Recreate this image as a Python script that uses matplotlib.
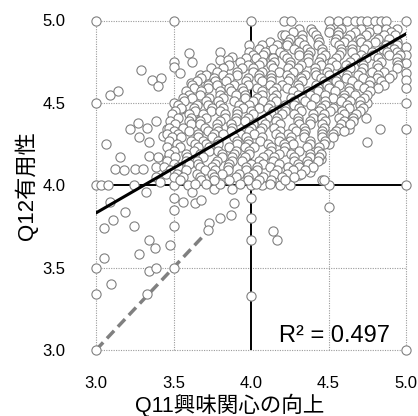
import matplotlib
matplotlib.use("Agg")
import matplotlib.pyplot as plt
import numpy as np

plt.rcParams['font.family'] = ['Liberation Sans', 'Noto Sans CJK JP', 'DejaVu Sans']

# ---- data ----
x_label = "Q11興味関心の向上"
y_label = "Q12有用性"
ticks = [3.0, 3.5, 4.0, 4.5, 5.0]
tick_labels = ["3.0", "3.5", "4.0", "4.5", "5.0"]
r2_text = "R² = 0.497"
fit_slope = 0.5435
fit_intercept = 2.2015
diag_end = 3.72

edge_points = [
    (3.0, 5.0), (3.5, 5.0), (4.0, 5.0),
    (4.21, 5.0), (4.26, 5.0), (4.50, 5.0), (4.56, 5.0), (4.62, 5.0), (4.67, 5.0),
    (4.71, 5.0), (4.75, 5.0), (4.80, 5.0), (4.84, 5.0), (4.87, 5.0), (5.0, 5.0),
    (5.0, 4.84), (5.0, 4.79), (5.0, 4.74), (5.0, 4.68), (5.0, 4.64), (5.0, 4.59),
    (5.0, 4.50), (5.0, 4.34), (5.0, 4.0), (5.0, 3.0),
    (4.75, 4.50), (4.83, 4.34), (4.75, 4.26), (4.5, 4.0), (4.5, 3.87), (4.46, 4.03),
    (4.0, 3.92), (4.0, 3.80), (4.0, 3.67), (4.0, 3.33), (4.14, 3.72), (4.17, 3.67),
    (4.07, 4.0), (4.19, 4.0), (4.25, 4.0), (4.0, 4.0),
    (3.0, 4.0), (3.03, 4.0), (3.08, 4.0), (3.245, 4.0), (3.32, 3.96),
    (3.5, 4.0), (3.595, 4.0),
    (3.09, 3.90), (3.19, 3.84), (3.11, 3.79), (3.05, 3.74), (3.245, 3.75),
    (3.34, 3.67), (3.38, 3.62), (3.28, 3.58), (3.48, 3.64), (3.5, 3.75),
    (3.5, 3.85), (3.5, 3.92), (3.5, 3.5), (3.34, 3.48), (3.39, 3.50),
    (3.05, 3.56), (3.0, 3.5), (3.095, 3.40), (3.0, 3.34), (3.33, 3.34), (3.0, 3.0),
    (3.73, 3.77), (3.725, 3.73), (3.80, 3.80), (3.87, 3.82), (3.89, 3.89),
    (3.56, 3.90), (3.64, 3.89), (3.68, 3.91), (3.62, 3.96), (3.76, 3.98),
    (3.80, 4.01), (3.875, 3.98),
    (3.0, 4.5), (3.5, 4.5), (3.09, 4.55), (3.14, 4.57), (3.29, 4.70),
    (3.36, 4.64), (3.42, 4.65), (3.40, 4.60), (3.5, 4.75), (3.5, 4.72),
    (3.54, 4.68), (3.60, 4.80), (3.62, 4.75), (3.065, 4.25), (3.155, 4.17),
    (3.12, 4.10), (3.18, 4.09), (3.25, 4.10), (3.30, 4.10), (3.22, 4.34),
    (3.27, 4.38), (3.33, 4.35), (3.39, 4.39), (3.28, 4.29), (3.34, 4.26),
    (3.43, 4.30), (3.46, 4.34), (3.34, 4.18), (3.40, 4.17), (3.46, 4.16),
    (3.39, 4.11), (3.39, 4.05), (3.41, 4.02),
    (3.67, 4.67), (3.80, 4.81), (3.80, 4.76), (3.875, 4.78), (3.85, 4.76),
    (3.99, 4.85), (3.99, 4.81), (4.0, 4.76), (4.20, 4.91), (4.23, 4.87),
    (4.18, 4.84), (4.06, 4.82), (4.07, 4.76), (4.14, 4.78), (4.12, 4.84),
    (3.61, 4.62), (3.65, 4.60), (3.55, 4.46), (3.63, 4.44),
    (4.74, 4.41), (4.66, 4.41), (4.63, 4.34), (4.55, 4.33), (4.50, 4.25),
    (4.45, 4.16), (4.38, 4.08), (4.31, 4.06), (4.24, 4.06), (4.19, 4.09),
    (4.47, 4.03),
]

core_rows = [
    (4.95, [4.31, 4.39, 4.51, 4.58, 4.71, 4.81, 4.87, 4.94]),
    (4.93, [4.27, 4.40, 4.50, 4.56, 4.67, 4.76, 4.90]),
    (4.91, [4.22, 4.33, 4.42, 4.56, 4.64, 4.74, 4.86, 4.93]),
    (4.89, [4.25, 4.33, 4.43, 4.55, 4.62, 4.70, 4.82, 4.89]),
    (4.87, [4.12, 4.24, 4.31, 4.44, 4.54, 4.60, 4.71, 4.80, 4.94]),
    (4.85, [4.07, 4.17, 4.23, 4.34, 4.43, 4.57, 4.65, 4.75, 4.87, 4.94]),
    (4.83, [4.05, 4.14, 4.28, 4.36, 4.46, 4.58, 4.65, 4.73, 4.85, 4.92]),
    (4.81, [4.09, 4.19, 4.31, 4.38, 4.46, 4.58, 4.65, 4.78, 4.88, 4.94]),
    (4.79, [4.01, 4.08, 4.21, 4.31, 4.37, 4.48, 4.57, 4.71, 4.79, 4.89, 4.96]),
    (4.77, [3.97, 4.03, 4.14, 4.23, 4.37, 4.45, 4.55, 4.67, 4.74, 4.82, 4.94]),
    (4.75, [3.93, 4.07, 4.15, 4.25, 4.37, 4.44, 4.52, 4.64, 4.71, 4.84, 4.94]),
    (4.73, [3.86, 3.98, 4.05, 4.13, 4.25, 4.32, 4.45, 4.55, 4.61, 4.72, 4.81, 4.95]),
    (4.71, [3.74, 3.82, 3.94, 4.01, 4.14, 4.24, 4.30, 4.41, 4.50, 4.64, 4.72, 4.82, 4.94]),
    (4.69, [3.78, 3.91, 4.01, 4.07, 4.18, 4.27, 4.41, 4.49, 4.59, 4.71, 4.78, 4.86]),
    (4.67, [3.71, 3.82, 3.91, 4.05, 4.13, 4.23, 4.35, 4.42, 4.50, 4.62, 4.69, 4.82, 4.91]),
    (4.65, [3.68, 3.76, 3.86, 3.98, 4.05, 4.13, 4.25, 4.32, 4.45, 4.55, 4.61, 4.72, 4.81, 4.89]),
    (4.63, [3.65, 3.77, 3.84, 3.97, 4.07, 4.13, 4.24, 4.33, 4.47, 4.55, 4.65, 4.77, 4.84]),
    (4.61, [3.62, 3.72, 3.78, 3.89, 3.98, 4.12, 4.20, 4.30, 4.42, 4.49, 4.57, 4.69, 4.76, 4.86]),
    (4.59, [3.63, 3.72, 3.86, 3.94, 4.04, 4.16, 4.23, 4.31, 4.43, 4.50, 4.63, 4.73, 4.82]),
    (4.57, [3.58, 3.68, 3.80, 3.87, 3.95, 4.07, 4.14, 4.27, 4.37, 4.43, 4.54, 4.63, 4.77]),
    (4.55, [3.60, 3.67, 3.80, 3.90, 3.96, 4.07, 4.16, 4.30, 4.38, 4.48, 4.60, 4.67, 4.75]),
    (4.53, [3.56, 3.62, 3.73, 3.82, 3.96, 4.04, 4.14, 4.26, 4.33, 4.41, 4.53, 4.60, 4.73]),
    (4.51, [3.57, 3.71, 3.79, 3.89, 4.01, 4.08, 4.16, 4.28, 4.35, 4.48, 4.58, 4.64, 4.70]),
    (4.49, [3.53, 3.65, 3.72, 3.80, 3.92, 3.99, 4.12, 4.22, 4.28, 4.39, 4.48, 4.62, 4.70]),
    (4.47, [3.55, 3.63, 3.75, 3.82, 3.95, 4.05, 4.11, 4.22, 4.31, 4.45, 4.53, 4.63, 4.72]),
    (4.45, [3.51, 3.64, 3.74, 3.80, 3.91, 4.00, 4.14, 4.22, 4.32, 4.44, 4.51, 4.59, 4.70]),
    (4.43, [3.49, 3.60, 3.69, 3.83, 3.91, 4.01, 4.13, 4.20, 4.28, 4.40, 4.47, 4.60, 4.68]),
    (4.41, [3.53, 3.61, 3.71, 3.83, 3.90, 3.98, 4.10, 4.17, 4.30, 4.40, 4.46, 4.57, 4.66]),
    (4.39, [3.48, 3.60, 3.67, 3.80, 3.90, 3.96, 4.07, 4.16, 4.30, 4.38, 4.48, 4.60, 4.66]),
    (4.37, [3.51, 3.61, 3.67, 3.78, 3.87, 4.01, 4.09, 4.19, 4.31, 4.38, 4.46, 4.58, 4.64]),
    (4.35, [3.47, 3.56, 3.70, 3.78, 3.88, 4.00, 4.07, 4.15, 4.27, 4.34, 4.47, 4.57]),
    (4.33, [3.50, 3.60, 3.72, 3.79, 3.87, 3.99, 4.06, 4.19, 4.29, 4.35, 4.46, 4.55, 4.60]),
    (4.31, [3.46, 3.53, 3.66, 3.76, 3.82, 3.93, 4.02, 4.16, 4.24, 4.34, 4.46, 4.53]),
    (4.29, [3.49, 3.55, 3.66, 3.75, 3.89, 3.97, 4.07, 4.19, 4.26, 4.34, 4.46, 4.53]),
    (4.27, [3.47, 3.61, 3.69, 3.79, 3.91, 3.98, 4.06, 4.18, 4.25, 4.38, 4.48]),
    (4.25, [3.52, 3.64, 3.71, 3.79, 3.91, 3.98, 4.11, 4.21, 4.27, 4.38, 4.47]),
    (4.23, [3.46, 3.54, 3.66, 3.73, 3.86, 3.96, 4.02, 4.13, 4.22, 4.36, 4.44]),
    (4.21, [3.50, 3.63, 3.73, 3.79, 3.90, 3.99, 4.13, 4.21, 4.31, 4.43]),
    (4.19, [3.47, 3.58, 3.67, 3.81, 3.89, 3.99, 4.11, 4.18, 4.26, 4.38, 4.45]),
    (4.17, [3.51, 3.59, 3.69, 3.81, 3.88, 3.96, 4.08, 4.15, 4.28, 4.38, 4.44]),
    (4.15, [3.46, 3.58, 3.65, 3.78, 3.88, 3.94, 4.05, 4.14, 4.28, 4.36, 4.43]),
    (4.13, [3.50, 3.60, 3.66, 3.77, 3.86, 4.00, 4.08, 4.18, 4.30, 4.37]),
    (4.11, [3.44, 3.53, 3.67, 3.75, 3.85, 3.97, 4.04, 4.12, 4.24, 4.31, 4.40]),
    (4.09, [3.48, 3.58, 3.70, 3.77, 3.85, 3.97, 4.04, 4.17, 4.27, 4.35]),
    (4.07, [3.45, 3.52, 3.65, 3.75, 3.81, 3.92, 4.01, 4.15, 4.23, 4.32]),
    (4.05, [3.50, 3.56, 3.67, 3.76, 3.90, 3.98, 4.08, 4.20, 4.28]),
    (4.03, [3.54, 3.68, 3.76, 3.86, 3.98, 4.05, 4.13, 4.22]),
    (4.01, [3.64, 3.71, 3.93, 4.03, 4.12]),
]

# ---- assemble ----
px = [p[0] for p in edge_points]
py = [p[1] for p in edge_points]
for yv, xs in core_rows:
    for xv in xs:
        px.append(xv)
        py.append(yv)

W, H = 418, 416
fig = plt.figure(figsize=(W / 100, H / 100), dpi=100)
ax = fig.add_axes([96 / W, (H - 350) / H, 310 / W, 329.5 / H])
ax.set_xlim(3.0, 5.0)
ax.set_ylim(3.0, 5.0)
for s in ax.spines.values():
    s.set_visible(False)

ax.set_xticks(ticks)
ax.set_yticks(ticks)
ax.set_xticklabels(tick_labels)
ax.set_yticklabels(tick_labels)
ax.tick_params(length=0, labelsize=12, colors='#000000')
ax.tick_params(axis='x', pad=19)
ax.tick_params(axis='y', pad=22)

for t in ticks:
    if t == 4.0:
        continue
    ax.plot([t, t], [3.0, 5.0], linestyle=(0, (1, 1.2)), color='#9a9a9a', lw=0.8, zorder=0.5, clip_on=False)
    ax.plot([3.0, 5.0], [t, t], linestyle=(0, (1, 1.2)), color='#9a9a9a', lw=0.8, zorder=0.5, clip_on=False)

ax.plot([4.0, 4.0], [3.0, 5.0], color='black', lw=1.4, zorder=1, solid_capstyle='butt')
ax.plot([3.0, 5.0], [4.0, 4.0], color='black', lw=1.4, zorder=1, solid_capstyle='butt')

ax.plot([3.0, diag_end], [3.0, diag_end], color='#808080', lw=2.5,
        linestyle=(0, (3, 1.6)), zorder=1.5)

ax.scatter(px, py, s=44, facecolor='white', edgecolor='#808080', linewidth=0.8,
           zorder=2, clip_on=False)

fx = np.array([3.0, 5.0])
ax.plot(fx, fit_intercept + fit_slope * fx, color='black', lw=2.2, zorder=3)

ax.text(4.18, 3.05, r2_text, fontsize=17, ha='left', va='baseline', zorder=4)

fig.text(230 / W, (H - 405) / H, x_label, fontsize=15.5, ha='center', va='center')
fig.text(26 / W, (H - 186) / H, y_label, fontsize=16, ha='center', va='center', rotation=90)

fig.savefig("out.png", dpi=100)
